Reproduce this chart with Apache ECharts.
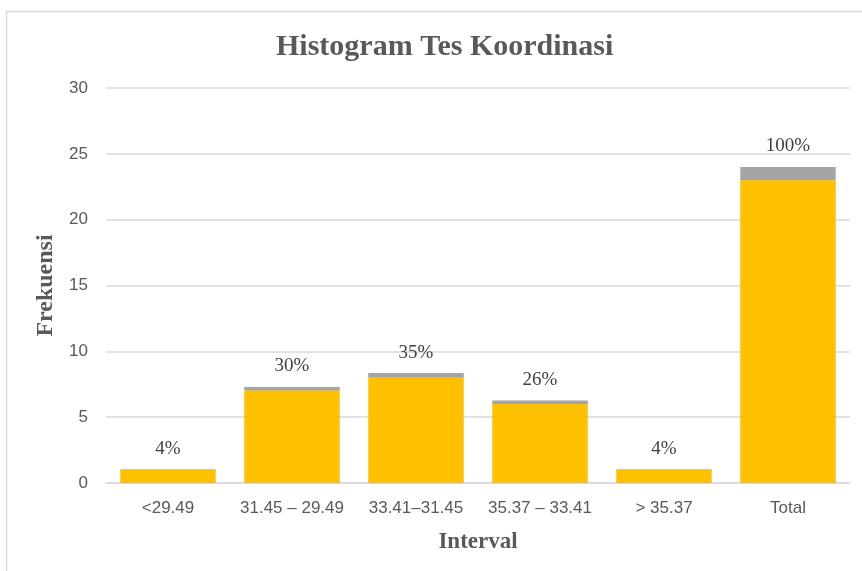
<!DOCTYPE html>
<html>
<head>
<meta charset="utf-8">
<script src="https://cdn.jsdelivr.net/npm/echarts@6/dist/echarts.min.js"></script>
<style>
  html, body { margin: 0; padding: 0; background: #fff; }
  #chart { width: 862px; height: 571px; }
</style>
</head>
<body>
<div id="chart"></div>
<script>
// data
const categories = ['<29.49', '31.45 – 29.49', '33.41–31.45', '35.37 – 33.41', '> 35.37', 'Total']
const frekuensi = [1, 7, 8, 6, 1, 23]
const persen = [0.04, 0.30, 0.35, 0.26, 0.04, 1.00]
const yTicks = [0, 5, 10, 15, 20, 25, 30]

const serif = '"Liberation Serif", "DejaVu Serif", serif'
const sans = '"Liberation Sans Narrow", "Liberation Sans", sans-serif'

const chart = echarts.init(document.getElementById('chart'))
const option = {
  animation: false,
  graphic: [
    {
      type: 'rect',
      shape: { x: 6.5, y: 11.5, width: 880, height: 600 },
      style: { fill: 'none', stroke: '#d9d9d9', lineWidth: 1.5 },
      silent: true
    }
  ],
  title: {
    text: 'Histogram Tes Koordinasi',
    left: 271,
    top: 27,
    textStyle: {
      fontFamily: serif,
      fontWeight: 'bold',
      fontSize: 30,
      color: '#595959'
    }
  },
  grid: {
    left: 106,
    right: 12,
    top: 88,
    bottom: 88
  },
  xAxis: {
    type: 'category',
    data: categories,
    name: 'Interval',
    nameLocation: 'middle',
    nameGap: 48,
    nameTextStyle: {
      fontFamily: serif,
      fontWeight: 'bold',
      fontSize: 23,
      color: '#595959'
    },
    axisTick: { show: false },
    axisLine: { lineStyle: { color: '#d9d9d9', width: 1.5 } },
    axisLabel: {
      fontFamily: sans,
      fontSize: 17,
      color: '#595959',
      margin: 17,
      interval: 0
    }
  },
  yAxis: {
    type: 'value',
    min: yTicks[0],
    max: yTicks[yTicks.length - 1],
    interval: 5,
    name: 'Frekuensi',
    nameLocation: 'middle',
    nameGap: 45,
    nameTextStyle: {
      fontFamily: serif,
      fontWeight: 'bold',
      fontSize: 24,
      color: '#595959'
    },
    axisLine: { show: false },
    axisTick: { show: false },
    axisLabel: {
      fontFamily: sans,
      fontSize: 17,
      color: '#595959',
      margin: 18
    },
    splitLine: { lineStyle: { color: '#d9d9d9', width: 1.5 } }
  },
  series: [
    {
      name: 'Frekuensi',
      type: 'bar',
      stack: 'a',
      data: frekuensi,
      barCategoryGap: '23%',
      itemStyle: { color: '#ffc000' }
    },
    {
      name: 'Persen',
      type: 'bar',
      stack: 'a',
      data: persen,
      itemStyle: { color: '#a5a5a5' },
      label: {
        show: true,
        position: 'top',
        distance: 11,
        fontFamily: serif,
        fontSize: 19,
        color: '#404040',
        formatter: p => Math.round(p.value * 100) + '%'
      }
    }
  ]
}
chart.setOption(option)
</script>
</body>
</html>
